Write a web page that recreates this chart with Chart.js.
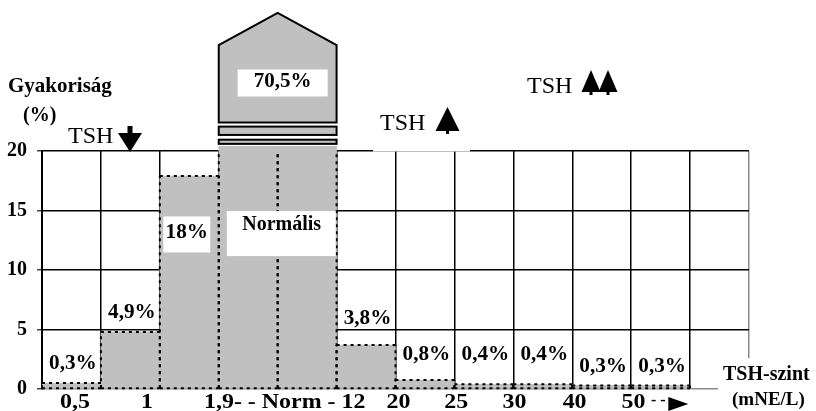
<!DOCTYPE html>
<html>
<head>
<meta charset="utf-8">
<script src="https://cdn.jsdelivr.net/npm/chart.js@4"></script>
<style>
  html, body { margin: 0; background: #fff; }
  #wrap { width: 816px; height: 411px; position: relative; }
</style>
</head>
<body>
<div id="wrap"><canvas id="tshChart"></canvas></div>
<script>
// TSH-szint osztályok (oszlopok)
const categories = ['<0,5', '0,5-1', '1-1,9', '1,9-Norm', 'Norm-12', '12-20', '20-25', '25-30', '30-40', '40-50', '>50'];
// oszlopmagasság (%), a normál tartomány a 20-as tengelyen túlnyúlik
const barHeights = [0.5, 4.8, 17.9, 20.4, 20.4, 3.7, 0.75, 0.4, 0.4, 0.3, 0.3];
const shareLabels = ['0,3%', '4,9%', '18%', '', '', '3,8%', '0,8%', '0,4%', '0,4%', '0,3%', '0,3%'];
const normalShare = '70,5%';
const yTicks = [0, 5, 10, 15, 20];
const xTickLabels = ['0,5', '1', '1,9- - Norm - 12', '20', '25', '30', '40', '50'];
const xTickAt = [0.56, 1.78, 4.12, 6.05, 7.03, 8.02, 9.04, 10.04];

const SERIF = '"Liberation Serif", "Times New Roman", serif';
const GREY = '#c0c0c0';

function tree(ctx, cx, top, w, h) {
    ctx.beginPath();
    ctx.moveTo(cx, top);
    ctx.lineTo(cx + w / 2, top + h);
    ctx.lineTo(cx - w / 2, top + h);
    ctx.closePath();
    ctx.fill();
    ctx.fillRect(cx - 1.5, top + h - 1, 3, 4);
}

// vízszintesen kissé széthúzott felirat (a forráskép betűi szélesebbek)
function wideText(ctx, text, x, y, sx) {
    ctx.save();
    ctx.translate(x, y);
    ctx.scale(sx, 1);
    ctx.fillText(text, 0, 0);
    ctx.restore();
}

const decorPlugin = {
    id: 'decor',
    afterDatasetsDraw(chart) {
        const ctx = chart.ctx;
        const xs = chart.scales.x;
        const ys = chart.scales.y;
        const bars = chart.getDatasetMeta(0).data;
        const area = chart.chartArea;

        // pontozott oszlopkeretek
        ctx.save();
        ctx.strokeStyle = '#000';
        ctx.lineWidth = 2;
        ctx.setLineDash([3, 4]);
        bars.forEach((b, i) => {
            const l = b.x - b.width / 2, r = b.x + b.width / 2;
            const top = Math.max(b.y, area.top);
            ctx.beginPath();
            ctx.moveTo(l, b.base); ctx.lineTo(r, b.base);
            ctx.moveTo(l, b.base); ctx.lineTo(l, top);
            ctx.moveTo(r, b.base); ctx.lineTo(r, top);
            if (i !== 3 && i !== 4) { ctx.moveTo(l, top); ctx.lineTo(r, top); }
            ctx.stroke();
        });
        ctx.restore();

        // a normál tartomány "háza" a megszakított tengely fölött
        const x0 = bars[3].x - bars[3].width / 2;
        const x1 = bars[4].x + bars[4].width / 2;
        const xm = (x0 + x1) / 2;
        ctx.save();
        ctx.fillStyle = GREY;
        ctx.strokeStyle = '#000';
        ctx.lineWidth = 2;
        [[20.95, 20.6], [22.05, 21.35]].forEach(([a, b]) => {
            const ya = ys.getPixelForValue(a), yb = ys.getPixelForValue(b);
            ctx.fillRect(x0, ya, x1 - x0, yb - ya);
            ctx.strokeRect(x0, ya, x1 - x0, yb - ya);
        });
        ctx.beginPath();
        ctx.moveTo(x0, ys.getPixelForValue(22.4));
        ctx.lineTo(x0, ys.getPixelForValue(28.9));
        ctx.lineTo(xm, ys.getPixelForValue(31.6));
        ctx.lineTo(x1, ys.getPixelForValue(28.9));
        ctx.lineTo(x1, ys.getPixelForValue(22.4));
        ctx.closePath();
        ctx.fill();
        ctx.stroke();

        // fehér címkedobozok
        ctx.fillStyle = '#fff';
        ctx.fillRect(xm - 40, ys.getPixelForValue(26.85), 90, 27);
        ctx.fillRect(bars[2].x - 26, ys.getPixelForValue(14.5), 47, 36);
        ctx.fillRect(x0 + 8, ys.getPixelForValue(14.95), 109, 45);
        ctx.fillRect(373, 100, 97, 51.5);
        ctx.fillRect(718, 358, 98, 53);

        ctx.fillStyle = '#000';
        ctx.textAlign = 'center';
        ctx.textBaseline = 'middle';
        ctx.font = 'bold 21px ' + SERIF;
        ctx.fillText(normalShare, xm + 5, ys.getPixelForValue(25.8));

        // százalék-címkék
        const labelLevel = [2.1, 6.4, 13.1, null, null, 5.9, 2.9, 2.9, 2.9, 1.9, 1.9];
        ctx.font = 'bold 20px ' + SERIF;
        shareLabels.forEach((t, i) => {
            if (!t) return;
            const cx = i === 2 ? bars[i].x - 2.5 : bars[i].x + 1.5;
            wideText(ctx, t, cx, ys.getPixelForValue(labelLevel[i]), 1.06);
        });
        ctx.fillText('Normális', xm + 4, ys.getPixelForValue(13.8));

        // x tengely feliratai
        ctx.textBaseline = 'alphabetic';
        ctx.font = 'bold 21px ' + SERIF;
        xTickLabels.forEach((t, i) => wideText(ctx, t, xs.getPixelForValue(xTickAt[i]), 408, 1.14));
        ctx.font = 'bold 16px ' + SERIF;
        ctx.fillText('- -', xs.getPixelForValue(10.46), 405);
        const ax = xs.getPixelForValue(10.63);
        ctx.beginPath();
        ctx.moveTo(ax, 397);
        ctx.lineTo(ax + 20, 404);
        ctx.lineTo(ax, 411);
        ctx.closePath();
        ctx.fill();

        // tengelycímek
        ctx.textAlign = 'left';
        ctx.font = 'bold 21px ' + SERIF;
        ctx.fillText('Gyakoriság', 8, 92);
        ctx.font = 'bold 20px ' + SERIF;
        ctx.fillText('(%)', 23, 121);
        ctx.fillText('TSH-szint', 723, 380);
        ctx.font = 'bold 19px ' + SERIF;
        ctx.fillText('(mNE/L)', 732, 405);

        // TSH nyilak
        ctx.font = '24px ' + SERIF;
        ctx.fillText('TSH', 68, 143);
        ctx.fillRect(127.5, 126, 5, 8);
        ctx.beginPath();
        ctx.moveTo(118, 133);
        ctx.lineTo(142, 133);
        ctx.lineTo(130, 152);
        ctx.closePath();
        ctx.fill();

        ctx.fillText('TSH', 380, 130);
        tree(ctx, 447.5, 107, 24, 24);

        ctx.fillText('TSH', 527, 93);
        tree(ctx, 591, 70, 19, 22);
        tree(ctx, 608, 70, 19, 22);
        ctx.restore();
    }
};

new Chart(document.getElementById('tshChart'), {
    type: 'bar',
    data: {
        labels: categories,
        datasets: [{
            label: 'Gyakoriság (%)',
            data: barHeights.map((v, i) => ({ x: i + 0.5, y: v })),
            backgroundColor: GREY,
            borderWidth: 0,
            barPercentage: 1,
            categoryPercentage: 1,
            clip: { left: 0, right: 0, top: 8, bottom: 0 }
        }]
    },
    options: {
        responsive: true,
        maintainAspectRatio: false,
        animation: false,
        layout: { padding: { top: 151, right: 67, bottom: 18, left: 0 } },
        plugins: { legend: { display: false }, tooltip: { enabled: false } },
        scales: {
            x: {
                type: 'linear',
                min: 0,
                max: 12,
                offset: false,
                ticks: { display: false, stepSize: 1 },
                grid: {
                    offset: false,
                    drawTicks: false,
                    lineWidth: 1.5,
                    color: c => (c.tick && c.tick.value === 12 ? '#8a8a8a' : '#000')
                },
                border: { display: false }
            },
            y: {
                min: 0,
                max: 20,
                afterBuildTicks: s => { s.ticks = yTicks.map(v => ({ value: v })); },
                afterFit: s => { s.width = 42; },
                ticks: {
                    color: '#000',
                    padding: 10,
                    font: { family: SERIF, size: 20, weight: 'bold' }
                },
                grid: {
                    lineWidth: 1.5,
                    tickLength: 5,
                    tickColor: '#444',
                    color: c => (c.tick && c.tick.value === 0 ? '#8a8a8a' : '#000')
                },
                border: { color: '#000', width: 2 }
            }
        }
    },
    plugins: [decorPlugin]
});
</script>
</body>
</html>
